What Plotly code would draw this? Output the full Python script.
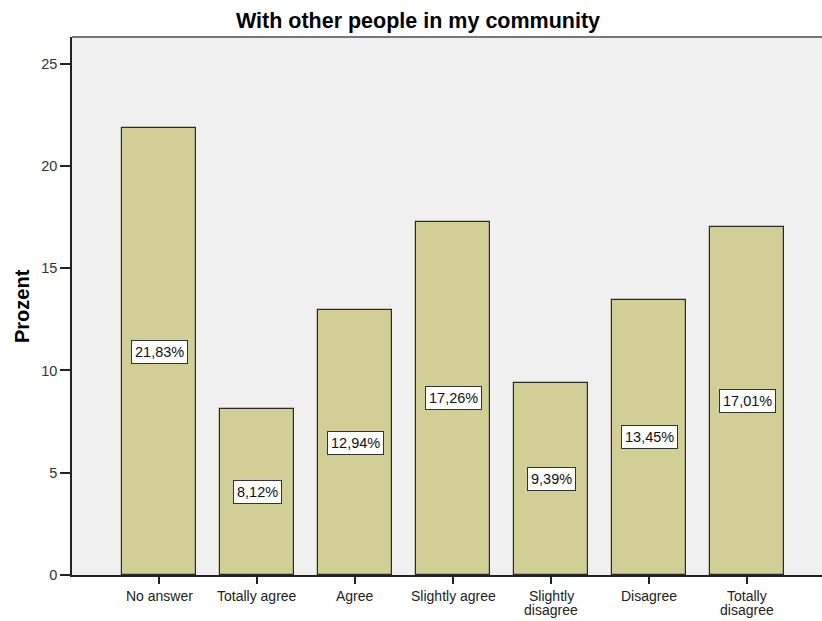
import plotly.graph_objects as go

categories = ["No answer", "Totally agree", "Agree", "Slightly agree",
              "Slightly<br>disagree", "Disagree", "Totally<br>disagree"]
values = [21.83, 8.12, 12.94, 17.26, 9.39, 13.45, 17.01]
y_ticks = [0, 5, 10, 15, 20, 25]
title_text = "With other people in my community"
y_title = "Prozent"

FONT = "Liberation Sans, Arial"
x_idx = list(range(len(categories)))

fig = go.Figure()
fig.add_trace(go.Bar(
    x=x_idx, y=values, width=0.755,
    marker=dict(color="#D2CF96", line=dict(color="#2a2a2a", width=1.2)),
    hoverinfo="skip",
))

for i, v in zip(x_idx, values):
    fig.add_annotation(
        x=i, y=v / 2, xref="x", yref="y",
        text=f"{v:.2f}%".replace(".", ","),
        showarrow=False,
        font=dict(family=FONT, size=14.5, color="#111111"),
        bgcolor="white", bordercolor="#333333", borderwidth=1, borderpad=3,
    )

# category labels (tight line spacing, one annotation per line)
for i, lab in zip(x_idx, categories):
    for j, line in enumerate(lab.split("<br>")):
        fig.add_annotation(
            x=i, y=0, xref="x", yref="paper", text=line, showarrow=False,
            xanchor="center", yanchor="middle", yshift=-21 - 13.5 * j,
            font=dict(family=FONT, size=14, color="#222222"),
        )

# y axis title
fig.add_annotation(
    x=(22 - 72) / 750, y=0.5, xref="paper", yref="paper",
    text=f"<b>{y_title}</b>", textangle=-90, showarrow=False,
    xanchor="center", yanchor="middle",
    font=dict(family=FONT, size=20, color="black"),
)

fig.update_layout(
    width=822, height=621,
    margin=dict(l=72, r=0, t=37, b=46, autoexpand=False),
    paper_bgcolor="white",
    plot_bgcolor="#F0F0F0",
    showlegend=False,
    font=dict(family=FONT, size=14.5, color="#222222"),
    title=dict(text=f"<b>{title_text}</b>", x=418 / 822, xanchor="center",
               y=1 - 20 / 621, yanchor="middle", automargin=False,
               font=dict(size=21.5, color="black", family=FONT)),
    bargap=0,
)
fig.update_xaxes(
    range=[-0.888, 6.765], tickmode="array", tickvals=x_idx,
    showticklabels=False,
    ticks="outside", ticklen=7, tickcolor="#222222", tickwidth=1.5,
    showline=True, linecolor="#222222", linewidth=1.5,
    showgrid=False, zeroline=False, automargin=False,
    fixedrange=True,
)
fig.update_yaxes(
    range=[0, 26.3], tickmode="array", tickvals=y_ticks,
    ticks="outside", ticklen=10, tickcolor="#222222", tickwidth=1.5,
    showline=True, linecolor="#222222", linewidth=1.5,
    showgrid=False, zeroline=False, automargin=False,
    tickfont=dict(family=FONT, size=14.5, color="#333333"),
    fixedrange=True,
)
# top border of the plot area
fig.add_shape(type="line", xref="paper", yref="paper", x0=0, x1=1, y0=1, y1=1,
              line=dict(color="#777777", width=2))

fig.write_html("out.html", config={"displayModeBar": False},
               post_script="document.body.style.margin='0';")
